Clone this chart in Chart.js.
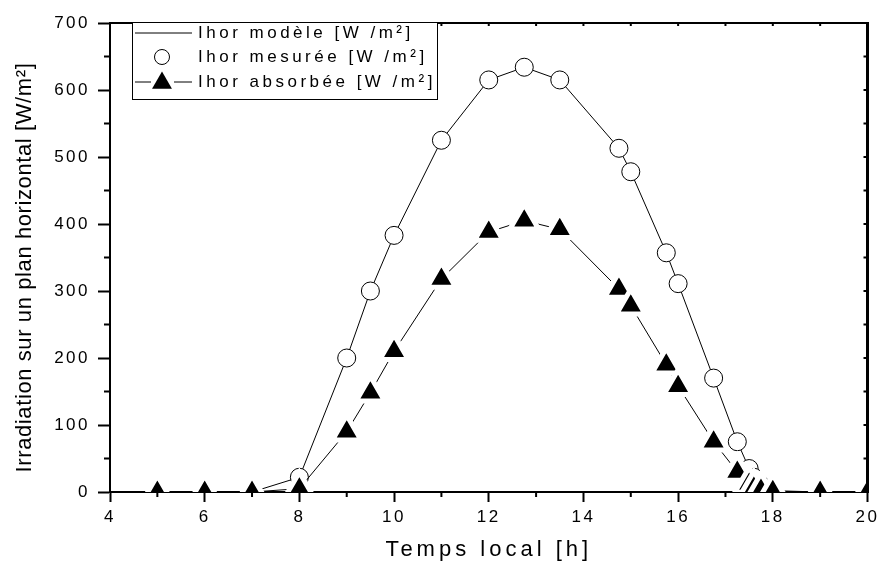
<!DOCTYPE html>
<html lang="fr">
<head>
<meta charset="UTF-8">
<title>Irradiation sur un plan horizontal</title>
<script src="https://cdn.jsdelivr.net/npm/chart.js"></script>
<style>
  html, body { margin: 0; padding: 0; background: #fff; }
  #wrap { width: 889px; height: 563px; }
</style>
</head>
<body>
<div id="wrap"><canvas id="irradiation"></canvas></div>
<script>
// Heures de mesure (temps local)
const heures = [5, 6, 7, 8, 9, 9.5, 10, 11, 12, 12.75, 13.5, 14.75, 15, 15.75, 16, 16.75, 17.25, 17.5, 17.6, 17.75, 18, 19, 20];
// Ihor modèle [W/m²]
const ihorModele = [0, 0, 0, 22, 200, 300, 383, 525, 615, 634, 615, 513, 478, 357, 311, 170, 75, 35, 22, 10, 2, 0, 0];
// Ihor mesurée [W/m²]
const ihorMesuree = [0, 0, 0, 22, 200, 300, 383, 525, 615, 634, 615, 513, 478, 357, 311, 170, 75, 35, 22, 10, 2, 0, 0];
// Ihor absorbée [W/m²]
const ihorAbsorbee = [0, 0, 0, 5, 90, 148, 210, 318, 388, 405, 392, 303, 278, 190, 158, 75, 30, 12, 6, 3, 1, 0, 0];

const xTicks = [4, 6, 8, 10, 12, 14, 16, 18, 20];
const yTicks = [0, 100, 200, 300, 400, 500, 600, 700];

const FONT = '"Liberation Sans", Arial, sans-serif';

function points(values) {
    return heures.map((h, i) => ({ x: h, y: values[i] }));
}

// cadre, graduations secondaires, titres des axes et légende
const decor = {
    id: 'decor',
    beforeDraw(chart) {
        chart.ctx.letterSpacing = '2.5px';
    },
    afterDraw(chart) {
        const { ctx, chartArea: { left, right, top, bottom } } = chart;
        const xs = chart.scales.x, ys = chart.scales.y;
        ctx.save();
        ctx.letterSpacing = '0px';
        ctx.strokeStyle = '#000';
        ctx.fillStyle = '#000';

        // axes haut et droit
        ctx.lineWidth = 2;
        ctx.beginPath();
        ctx.moveTo(left, top);
        ctx.lineTo(right, top);
        ctx.stroke();
        ctx.lineWidth = 3;
        ctx.beginPath();
        ctx.moveTo(right, top - 1);
        ctx.lineTo(right, bottom + 1);
        ctx.stroke();

        // petites graduations
        ctx.lineWidth = 2;
        ctx.beginPath();
        for (let v = 5; v < 20; v += 2) {
            const px = xs.getPixelForValue(v);
            ctx.moveTo(px, bottom);
            ctx.lineTo(px, bottom + 5);
        }
        for (let v = 5; v < 20; v++) {
            const px = xs.getPixelForValue(v);
            ctx.moveTo(px, top);
            ctx.lineTo(px, top + 3);
        }
        for (let v = 50; v < 700; v += 100) {
            const py = ys.getPixelForValue(v);
            ctx.moveTo(left, py);
            ctx.lineTo(left - 6, py);
        }
        for (let v = 50; v < 700; v += 50) {
            const py = ys.getPixelForValue(v);
            ctx.moveTo(right, py);
            ctx.lineTo(right - 4, py);
        }
        ctx.stroke();

        // titres des axes
        ctx.textAlign = 'center';
        ctx.textBaseline = 'middle';
        ctx.font = '22px ' + FONT;
        ctx.letterSpacing = '4px';
        ctx.fillText('Temps local [h]', (left + right) / 2, 550);
        ctx.save();
        ctx.translate(25, (top + bottom) / 2 + 10);
        ctx.rotate(-Math.PI / 2);
        ctx.font = '22px ' + FONT;
        ctx.letterSpacing = '0.6px';
        ctx.fillText('Irradiation sur un plan horizontal [W/m²]', 0, 0);
        ctx.restore();

        // légende
        const bx = 132, by = top - 1, bw = 305, bh = 77;
        ctx.fillStyle = '#fff';
        ctx.fillRect(bx, by, bw, bh);
        ctx.lineWidth = 1;
        ctx.strokeRect(bx + 0.5, by + 0.5, bw, bh);
        ctx.fillStyle = '#000';

        const rows = [by + 11, by + 35, by + 60];
        ctx.beginPath();
        ctx.moveTo(bx + 3, rows[0]);
        ctx.lineTo(bx + 60, rows[0]);
        ctx.moveTo(bx + 3, rows[2]);
        ctx.lineTo(bx + 19, rows[2]);
        ctx.moveTo(bx + 42, rows[2]);
        ctx.lineTo(bx + 60, rows[2]);
        ctx.stroke();

        ctx.beginPath();
        ctx.arc(bx + 30, rows[1], 7.5, 0, Math.PI * 2);
        ctx.stroke();

        const r = 11.5, cx = bx + 30, cy = rows[2] + 1;
        ctx.beginPath();
        ctx.moveTo(cx, cy - r);
        ctx.lineTo(cx + r * Math.sin(Math.PI * 2 / 3), cy - r * Math.cos(Math.PI * 2 / 3));
        ctx.lineTo(cx + r * Math.sin(Math.PI * 4 / 3), cy - r * Math.cos(Math.PI * 4 / 3));
        ctx.closePath();
        ctx.fill();

        ctx.font = '17px ' + FONT;
        ctx.letterSpacing = '3.5px';
        ctx.textAlign = 'left';
        const labels = chart.data.datasets.map(d => d.label);
        ctx.fillText(labels[2], bx + 66, rows[0]);
        ctx.fillText(labels[1], bx + 66, rows[1]);
        ctx.fillText(labels[0], bx + 66, rows[2]);
        ctx.restore();
    }
};

new Chart(document.getElementById('irradiation'), {
    type: 'line',
    data: {
        datasets: [
            {
                label: 'Ihor absorbée [W /m²]',
                data: points(ihorAbsorbee),
                order: 0,
                borderColor: '#000',
                borderWidth: 1,
                pointStyle: 'triangle',
                pointRadius: 16.5,
                pointBackgroundColor: '#000',
                pointBorderColor: '#fff',
                pointBorderWidth: 5
            },
            {
                label: 'Ihor mesurée [W /m²]',
                data: points(ihorMesuree),
                order: 1,
                showLine: false,
                pointStyle: 'circle',
                pointRadius: 9,
                pointBackgroundColor: '#fff',
                pointBorderColor: '#000',
                pointBorderWidth: 1
            },
            {
                label: 'Ihor modèle [W /m²]',
                data: points(ihorModele),
                order: 2,
                borderColor: '#000',
                borderWidth: 1,
                pointRadius: 0
            }
        ]
    },
    options: {
        responsive: true,
        maintainAspectRatio: false,
        animation: false,
        events: [],
        layout: { padding: { top: 23, right: 11, left: 0, bottom: 0 } },
        plugins: {
            legend: { display: false },
            tooltip: { enabled: false }
        },
        scales: {
            x: {
                type: 'linear',
                min: 4,
                max: 20,
                afterBuildTicks: s => { s.ticks = xTicks.map(v => ({ value: v })); },
                afterFit: s => { s.height = 71; s.paddingLeft = 0; s.paddingRight = 0; },
                border: { display: true, color: '#000', width: 2 },
                grid: { drawOnChartArea: false, drawTicks: true, tickLength: 10, tickColor: '#000', tickWidth: 2 },
                ticks: { color: '#000', padding: 5, maxRotation: 0, font: { family: FONT, size: 17 } }
            },
            y: {
                type: 'linear',
                min: 0,
                max: 700,
                afterBuildTicks: s => { s.ticks = yTicks.map(v => ({ value: v })); },
                afterFit: s => { s.width = 110; s.paddingTop = 0; s.paddingBottom = 0; },
                border: { display: true, color: '#000', width: 2 },
                grid: { drawOnChartArea: false, drawTicks: true, tickLength: 12, tickColor: '#000', tickWidth: 2 },
                ticks: { color: '#000', padding: 8, font: { family: FONT, size: 17 } }
            }
        }
    },
    plugins: [decor]
});
</script>
</body>
</html>
